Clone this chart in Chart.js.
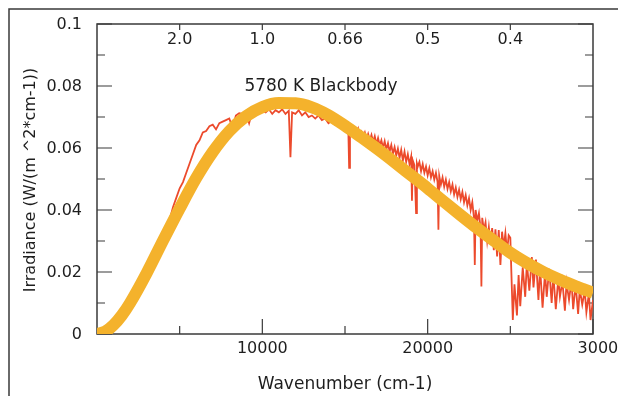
<!DOCTYPE html>
<html>
<head>
<meta charset="utf-8">
<script src="https://cdn.jsdelivr.net/npm/chart.js@4.4.1/dist/chart.umd.min.js"></script>
<style>
  body { margin: 0; background: #fff; }
  canvas { display: block; }
</style>
</head>
<body>
<canvas id="chart" width="618" height="396"></canvas>
<script>
'use strict';

// 5780 K blackbody curve (wavenumber cm-1, irradiance W/(m^2*cm-1))
var bbWavenumber = [0, 500, 1000, 1500, 2000, 3000, 4000, 5000, 6000, 7000, 8000, 9000, 10000,
  11000, 12000, 13000, 14000, 15000, 16000, 17000, 18000, 19000, 20000, 21000, 22000, 23000,
  24000, 25000, 26000, 27000, 28000, 29000, 30000];
var bbIrradiance = [0, 0.0008, 0.0029, 0.006, 0.010, 0.0196, 0.0302, 0.0405, 0.0503, 0.0587, 0.0654,
  0.0702, 0.0732, 0.0745, 0.0744, 0.0731, 0.0706, 0.0672, 0.0634, 0.0595, 0.0554, 0.0512, 0.0470,
  0.0426, 0.0383, 0.0341, 0.0301, 0.0262, 0.0229, 0.0200, 0.0175, 0.0153, 0.0133];

// measured solar spectrum
var solarWavenumber = [4000, 4200, 4400, 4600, 4800, 5000, 5200, 5400, 5600, 5800, 6000, 6200, 6400, 6600,
  6800, 7000, 7200, 7400, 7600, 7800, 8000, 8200, 8400, 8600, 8800, 9000, 9200, 9400, 9600, 9800,
  10000, 10200, 10400, 10600, 10800, 11000, 11200, 11400, 11600, 11700, 11800, 12000, 12200, 12400,
  12600, 12800, 13000, 13200, 13400, 13600, 13800, 14000, 14200, 14400, 14600, 14800, 15000, 15200,
  15250, 15300,
  15400, 15500, 15600, 15700, 15800, 15900, 16000, 16100, 16200, 16300, 16400, 16500, 16600, 16700,
  16800, 16900, 17000, 17100, 17200, 17300, 17400, 17500, 17600, 17700, 17800, 17900, 18000, 18100,
  18200, 18300, 18400, 18500, 18600, 18700, 18800, 18900, 19000, 19050, 19100, 19200, 19300, 19350,
  19400, 19500, 19600, 19700, 19800, 19900, 20000, 20100, 20200, 20300, 20400, 20500, 20600, 20650,
  20700, 20800, 20900, 21000, 21100, 21200, 21300, 21400, 21500, 21600, 21700, 21800, 21900, 22000,
  22100, 22200, 22300, 22400, 22500, 22600, 22700, 22800, 22850, 22900, 23000, 23100, 23200, 23250,
  23300, 23400, 23500, 23600, 23700, 23800, 23900, 24000, 24100, 24200, 24300, 24400, 24500, 24600,
  24700, 24800, 24900, 25000, 25150,
  25250, 25400, 25500, 25600, 25750, 25900, 26000, 26150, 26300, 26400, 26550, 26700, 26800, 26950,
  27100, 27200, 27350, 27500, 27600, 27750, 27900, 28000, 28150, 28300, 28400, 28550, 28700, 28800,
  28950, 29100, 29200, 29350, 29500, 29600, 29750, 29850, 30000];
var solarIrradiance = [0.031, 0.034, 0.037, 0.041, 0.044, 0.047, 0.049, 0.052, 0.055, 0.058, 0.061, 0.0625,
  0.065, 0.0655, 0.067, 0.0675, 0.066, 0.068, 0.0685, 0.069, 0.0695, 0.0665, 0.0705, 0.0712, 0.071,
  0.0715, 0.068, 0.072, 0.0718, 0.0722, 0.072, 0.0715, 0.0725, 0.071, 0.0722, 0.0715, 0.0725, 0.071,
  0.072, 0.057, 0.0715, 0.071, 0.0722, 0.0705, 0.0715, 0.070, 0.0705, 0.0695, 0.0705, 0.069, 0.0695,
  0.068, 0.0688, 0.0675, 0.068, 0.0665, 0.0672, 0.066, 0.0536, 0.066,
  0.0665, 0.0648, 0.0660, 0.0645, 0.0662, 0.0640, 0.0652, 0.0636, 0.0650, 0.0628, 0.0645, 0.0625,
  0.0642, 0.0620, 0.0638, 0.0612, 0.0632, 0.0608, 0.0625, 0.0600, 0.0622, 0.0595, 0.0615, 0.0588,
  0.0610, 0.0582, 0.0603, 0.0575, 0.0598, 0.0568, 0.0594, 0.0560, 0.0588, 0.0555, 0.0580, 0.0548,
  0.0572, 0.0430, 0.0560, 0.0545, 0.0390, 0.0550, 0.0540, 0.0555, 0.0525, 0.0548, 0.0520, 0.0540,
  0.0512, 0.0535, 0.0505, 0.0525, 0.0498, 0.0520, 0.0490, 0.0336, 0.0510, 0.0482, 0.0505, 0.0475,
  0.0498, 0.0468, 0.0490, 0.0460, 0.0482, 0.0450, 0.0472, 0.0442, 0.0465, 0.0435, 0.0458, 0.0425,
  0.0448, 0.0415, 0.0438, 0.0400, 0.0425, 0.0375, 0.0223, 0.0400, 0.0365, 0.0390, 0.0340, 0.0153,
  0.0375, 0.0335, 0.0360, 0.0300, 0.0345, 0.0290, 0.0342, 0.0270, 0.0338, 0.0250, 0.0335, 0.0223,
  0.0330, 0.0280, 0.0325, 0.0265, 0.0318, 0.0310, 0.0045,
  0.0160, 0.0060, 0.0190, 0.0090, 0.0215, 0.0120, 0.0230, 0.0140, 0.0248, 0.0150, 0.0240, 0.0110,
  0.0215, 0.0085, 0.0200, 0.0120, 0.0210, 0.0100, 0.0195, 0.0080, 0.0180, 0.0120, 0.0170, 0.0075,
  0.0165, 0.0110, 0.0172, 0.0080, 0.0160, 0.0065, 0.0145, 0.0095, 0.0140, 0.0070, 0.0130, 0.0045,
  0.0110];

// axis ticks
var xMajorTicks = [10000, 20000, 30000];
var xMinorTicks = [5000, 15000, 25000];
var yMajorTicks = [0, 0.02, 0.04, 0.06, 0.08, 0.1];
var yTickLabels = ['0', '0.02', '0.04', '0.06', '0.08', '0.1'];
var yMinorTicks = [0.01, 0.03, 0.05, 0.07, 0.09];
// wavelength (micron) marks along the top
var topTickWavenumber = [5000, 10000, 15000, 20000, 25000];
var topTickLabels = ['2.0', '1.0', '0.66', '0.5', '0.4'];

var FONT = '"DejaVu Sans", sans-serif';
var INK = '#1e1e1e';

function pairs(xs, ys) {
  return xs.map(function (x, i) { return { x: x, y: ys[i] }; });
}

var axesPlugin = {
  id: 'axesPlugin',
  beforeDatasetsDraw: function (chart) {
    var ctx = chart.ctx, a = chart.chartArea, x = chart.scales.x, y = chart.scales.y;
    ctx.save();
    ctx.strokeStyle = '#3a3a3a';
    ctx.lineWidth = 1.5;
    // outer frame of the figure
    ctx.beginPath();
    ctx.moveTo(9, 396);
    ctx.lineTo(9, 9);
    ctx.lineTo(618, 9);
    ctx.stroke();
    // plot box
    ctx.strokeRect(a.left, a.top, a.right - a.left, a.bottom - a.top);
    ctx.lineWidth = 1.2;
    ctx.beginPath();
    yMajorTicks.concat(yMinorTicks).forEach(function (v) {
      var len = yMajorTicks.indexOf(v) >= 0 ? 15 : 8;
      var py = y.getPixelForValue(v);
      ctx.moveTo(a.left, py); ctx.lineTo(a.left + len, py);
      ctx.moveTo(a.right, py); ctx.lineTo(a.right - len, py);
    });
    xMajorTicks.concat(xMinorTicks).forEach(function (v) {
      var len = xMajorTicks.indexOf(v) >= 0 ? 15 : 8;
      var px = x.getPixelForValue(v);
      ctx.moveTo(px, a.bottom); ctx.lineTo(px, a.bottom - len);
    });
    topTickWavenumber.forEach(function (v) {
      var px = x.getPixelForValue(v);
      ctx.moveTo(px, a.top); ctx.lineTo(px, a.top + 6);
    });
    ctx.stroke();
    ctx.restore();
  },
  afterDraw: function (chart) {
    var ctx = chart.ctx, a = chart.chartArea, x = chart.scales.x, y = chart.scales.y;
    ctx.save();
    ctx.fillStyle = INK;
    ctx.font = '16px ' + FONT;
    ctx.textBaseline = 'middle';
    ctx.textAlign = 'right';
    yMajorTicks.forEach(function (v, i) {
      ctx.fillText(yTickLabels[i], a.left - 15, y.getPixelForValue(v) + 1);
    });
    ctx.textAlign = 'center';
    xMajorTicks.forEach(function (v) {
      var px = x.getPixelForValue(v);
      if (v === x.max) px += 10;
      ctx.fillText(String(v), px, a.bottom + 15);
    });
    topTickWavenumber.forEach(function (v, i) {
      ctx.fillText(topTickLabels[i], x.getPixelForValue(v), a.top + 16);
    });
    ctx.font = '17px ' + FONT;
    ctx.fillText('Wavenumber (cm-1)', (a.left + a.right) / 2, 385);
    ctx.fillText('5780 K Blackbody', x.getPixelForValue(13550), y.getPixelForValue(0.0797));
    ctx.translate(31, (a.top + a.bottom) / 2 + 1);
    ctx.rotate(-Math.PI / 2);
    ctx.font = '16px ' + FONT;
    ctx.fillText('Irradiance (W/(m ^2*cm-1))', 0, 0);
    ctx.restore();
  }
};

var ctx = document.getElementById('chart').getContext('2d');
var chart = new Chart(ctx, {
  type: 'scatter',
  data: {
    datasets: [{
      label: '5780 K Blackbody',
      data: pairs(bbWavenumber, bbIrradiance),
      showLine: true,
      borderColor: '#f4b22c',
      borderWidth: 12,
      pointRadius: 0,
      cubicInterpolationMode: 'monotone',
      order: 0
    }, {
      label: 'Solar spectrum',
      data: pairs(solarWavenumber, solarIrradiance),
      showLine: true,
      borderColor: '#ec4a2c',
      borderWidth: 1.8,
      pointRadius: 0,
      tension: 0,
      order: 1
    }]
  },
  options: {
    responsive: false,
    animation: false,
    layout: { padding: { left: 97, top: 24, right: 25, bottom: 62 } },
    plugins: { legend: { display: false }, tooltip: { enabled: false } },
    scales: {
      x: { type: 'linear', min: 0, max: 30000, display: false },
      y: { type: 'linear', min: 0, max: 0.1, display: false }
    }
  },
  plugins: [axesPlugin]
});
</script>
</body>
</html>
